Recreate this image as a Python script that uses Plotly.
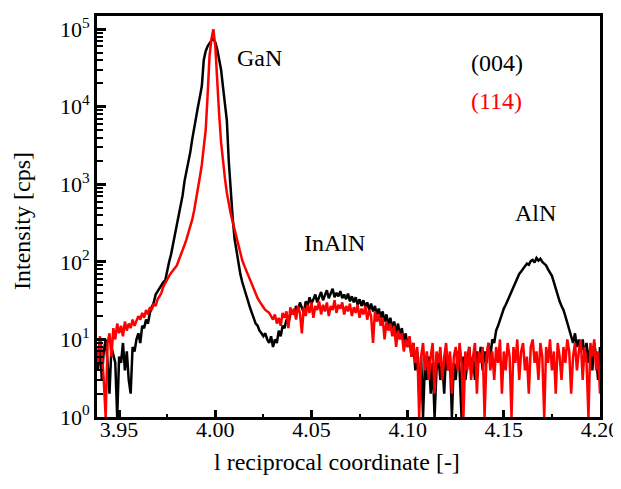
import numpy as np
import plotly.graph_objects as go

# scan grid (l reciprocal coordinate), 0.001 step from 3.938 to 4.200
x_start = 3.938
x_step = 0.001

# (004) scan, black  (rows of 10 start at 3.940, 3.950, ...)
i004 = [
    6, 4,
    9, 3, 7, 10, 5, 2, 8, 6, 5, 1,
    6, 5, 9, 4, 7, 3, 2, 8, 7, 10,
    12, 9, 15, 14, 18, 16, 22, 26, 30, 38,
    42, 46, 50, 55, 58, 78, 100, 125, 165, 220,
    290, 390, 530, 720, 1100, 1450, 1900, 2600, 3800, 5500,
    8000, 10000, 13500, 18500, 40000, 52000, 60000, 66000, 72000, 75000,
    68000, 55000, 42000, 30000, 18000, 11000, 6700, 2000, 800, 380,
    200, 140, 95, 70, 55, 45, 37, 31, 26, 22,
    19, 16, 15, 13, 12, 11, 12, 10, 9, 11,
    8, 10, 9, 13, 11, 15, 14, 18, 16, 21,
    24, 21, 27, 23, 30, 26, 22, 31, 27, 35,
    29, 33, 38, 30, 36, 41, 32, 37, 43, 34,
    39, 45, 35, 40, 36, 42, 34, 38, 33, 39,
    31, 36, 30, 35, 28, 33, 27, 32, 26, 30,
    24, 29, 23, 27, 21, 25, 19, 23, 17, 21,
    15, 19, 14, 17, 12, 16, 11, 14, 9, 12,
    8, 10, 6, 9, 4, 7, 2, 6, 1, 5,
    3, 6, 2, 5, 1, 4, 6, 3, 5, 2,
    7, 4, 6, 1, 5, 3, 7, 4, 1, 6,
    3, 5, 8, 4, 6, 3, 7, 5, 8, 4,
    7, 5, 9, 6, 10, 9, 13, 15, 18, 22,
    25, 28, 32, 35, 42, 48, 55, 60, 70, 75,
    82, 88, 95, 92, 102, 106, 98, 112, 104, 110,
    100, 95, 90, 80, 74, 66, 55, 45, 38, 31,
    27, 24, 20, 16, 13, 11, 9, 12, 8, 10,
    7, 10, 6, 9, 5, 8, 4, 9, 6, 3,
    8,
]

# (114) scan, red
i114 = [
    8, 5,
    11, 7, 3, 1, 9, 12, 6, 14, 10, 16,
    12, 15, 11, 17, 13, 16, 14, 18, 15, 17,
    20, 18, 22, 19, 24, 21, 26, 24, 29, 27,
    33, 36, 40, 48, 54, 60, 66, 72, 78, 84,
    90, 105, 120, 145, 165, 195, 235, 290, 350, 460,
    620, 880, 1250, 1800, 2800, 5000, 14000, 45000, 75000, 100000,
    60000, 20000, 8000, 3500, 1900, 1200, 780, 560, 420, 330,
    260, 200, 160, 125, 105, 90, 78, 66, 58, 50,
    44, 38, 34, 31, 28, 26, 24, 23, 22, 20,
    18, 21, 16, 19, 15, 22, 19, 23, 14, 26,
    21, 25, 18, 27, 22, 12, 26, 20, 28, 22,
    30, 19, 27, 24, 31, 21, 28, 23, 30, 20,
    27, 24, 32, 22, 28, 25, 30, 21, 27, 23,
    29, 20, 26, 22, 28, 19, 25, 21, 27, 18,
    24, 20, 9, 23, 17, 21, 15, 19, 10, 17,
    13, 16, 11, 15, 8, 13, 10, 12, 7, 10,
    8, 11, 6, 9, 5, 8, 1, 6, 9, 4,
    7, 3, 6, 9, 2, 7, 5, 8, 3, 6,
    9, 4, 7, 2, 6, 8, 4, 9, 5, 1,
    7, 4, 8, 3, 6, 9, 2, 7, 5, 8,
    1, 6, 9, 4, 7, 3, 8, 5, 10, 2,
    7, 4, 9, 6, 1, 8, 5, 10, 3, 7,
    9, 4, 6, 2, 8, 10, 5, 7, 3, 9,
    6, 1, 8, 5, 10, 4, 7, 2, 9, 6,
    3, 8, 5, 10, 7, 2, 6, 9, 4, 7,
    10, 3, 8, 5, 1, 9, 6, 10, 4, 7,
    2,
]

x004 = np.round(x_start + x_step * np.arange(len(i004)), 4)
x114 = np.round(x_start + x_step * np.arange(len(i114)), 4)

x_ticks = [3.95, 4.00, 4.05, 4.10, 4.15, 4.20]
x_ticktext = ["3.95", "4.00", "4.05", "4.10", "4.15", "4.20"]
x_minor = [3.975, 4.025, 4.075, 4.125, 4.175]
y_decades = [0, 1, 2, 3, 4, 5]

FONT = "Liberation Serif, Times New Roman, serif"

fig = go.Figure()
fig.add_trace(go.Scatter(x=x004, y=i004, mode="lines",
                         line=dict(color="black", width=2.5), name="(004)"))
fig.add_trace(go.Scatter(x=x114, y=i114, mode="lines",
                         line=dict(color="#ff0000", width=2.5), name="(114)"))

y_major = [10 ** d for d in y_decades]
y_minor = [m * 10 ** d for d in y_decades[:-1] for m in range(2, 10)]

fig.update_xaxes(
    range=[3.9385, 4.2], showline=True, linewidth=3, linecolor="black", mirror=True,
    tickmode="array", tickvals=x_ticks, ticktext=x_ticktext,
    ticks="inside", ticklen=7, tickwidth=2.5, tickcolor="black",
    minor=dict(tickmode="array", tickvals=x_minor, ticks="inside", ticklen=3,
               tickwidth=2, tickcolor="black"),
    showgrid=False, zeroline=False, ticklabelstandoff=-9,
    tickfont=dict(family=FONT, size=22, color="black"),
)
fig.update_yaxes(
    type="log", range=[0, 5.17], showline=True, linewidth=3, linecolor="black",
    mirror=True, tickmode="array", tickvals=y_major,
    ticktext=[f"10<sup>{d}</sup>" for d in y_decades],
    ticks="inside", ticklen=9, tickwidth=2.5, tickcolor="black",
    minor=dict(tickmode="array", tickvals=y_minor, ticks="inside", ticklen=6,
               tickwidth=2, tickcolor="black"),
    showgrid=False, zeroline=False, ticklabelstandoff=0,
    tickfont=dict(family=FONT, size=22, color="black"),
)

ann_font = dict(family=FONT, size=24, color="black")
annotations = [
    dict(text="GaN", x=0.324, y=0.895, font=ann_font),
    dict(text="InAlN", x=0.473, y=0.434, font=ann_font),
    dict(text="AlN", x=0.871, y=0.509, font=ann_font),
    dict(text="(004)", x=0.795, y=0.883, font=ann_font),
    dict(text="(114)", x=0.795, y=0.788, font=dict(family=FONT, size=24, color="#ff0000")),
]
for a in annotations:
    a.update(xref="paper", yref="paper", showarrow=False, xanchor="center", yanchor="middle")

# axis titles
annotations.append(dict(text="l reciprocal coordinate [-]", xref="paper", yref="paper",
                        x=0.477, y=-0.112, showarrow=False, xanchor="center",
                        yanchor="middle", font=dict(family=FONT, size=24, color="black")))
annotations.append(dict(text="Intensity [cps]", xref="paper", yref="paper",
                        x=-0.149, y=0.489, textangle=-90, showarrow=False,
                        xanchor="center", yanchor="middle",
                        font=dict(family=FONT, size=24, color="black")))

# page body has an 8px margin: size the figure so the plot frame lands where the reference has it
fig.update_layout(
    width=613, height=481,
    margin=dict(l=89, r=21, t=8, b=72, autoexpand=False),
    paper_bgcolor="white", plot_bgcolor="white",
    showlegend=False, annotations=annotations,
)

fig.write_html("out.html")
